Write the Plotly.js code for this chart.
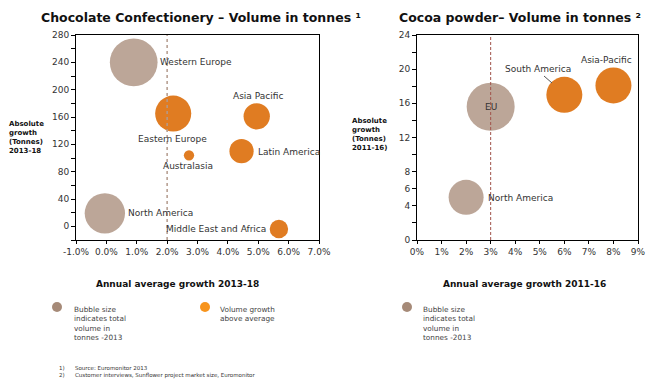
<!DOCTYPE html>
<html>
<head>
<meta charset="utf-8">
<script src="https://cdn.plot.ly/plotly-3.0.1.min.js"></script>
<style>html,body{margin:0;padding:0;background:#fff;}#chart{width:671px;height:383px;}</style>
</head>
<body>
<div id="chart"></div>
<script>
// ---------- Data ----------
const leftRegions = ['Western Europe','Eastern Europe','Asia Pacific','Latin America','Australasia','North America','Middle East and Africa'];
const leftGrowth = [0.9, 2.2, 4.95, 4.45, 2.72, -0.05, 5.68];          // % per year 2013-18
const leftAbsGrowth = [240, 165, 161, 110, 104, 19, -4];               // tonnes
const leftVolume = [2800, 1600, 850, 720, 130, 2000, 420];             // relative total volume 2013
const leftAboveAvg = [false, true, true, true, true, false, true];
const leftAvg = 2;

const rightRegions = ['EU','South America','Asia-Pacific','North America'];
const rightGrowth = [3.0, 6.0, 8.0, 2.0];                               // % per year 2011-16
const rightAbsGrowth = [15.6, 17.0, 18.1, 5.0];                         // tonnes
const rightVolume = [576, 324, 324, 306];                               // relative total volume 2013
const rightAboveAvg = [false, true, true, false];
const rightAvg = 3;

const leftXTicks = [-1,0,1,2,3,4,5,6,7];
const leftXLabels = ['-1.0%','0.0%','1.0%','2.0%','3.0%','4.0%','5.0%','6.0%','7.0%'];
const leftYTicks = [0,40,80,120,160,200,240,280];
const rightXTicks = [0,1,2,3,4,5,6,7,8,9];
const rightXLabels = ['0%','1%','2%','3%','4%','5%','6%','7%','8%','9%'];
const rightYTicks = [0,4,6,8,12,16,20,24];

// ---------- Styling ----------
const W = 671, H = 383;
const BROWN = '#bca698', ORANGE = '#e07c22';
const FONT = 'DejaVu Sans, Verdana, sans-serif';
const px = v => v / W;
const py = v => 1 - v / H;

const colorsFor = flags => flags.map(f => f ? ORANGE : BROWN);

const traces = [
  {
    type: 'scatter', mode: 'markers', xaxis: 'x', yaxis: 'y',
    x: leftGrowth, y: leftAbsGrowth, text: leftRegions,
    marker: {size: leftVolume, sizemode: 'area', sizeref: 2.458, color: colorsFor(leftAboveAvg), opacity: 1, line: {width: 0}},
    hoverinfo: 'text', showlegend: false
  },
  {
    type: 'scatter', mode: 'markers', xaxis: 'x2', yaxis: 'y2',
    x: rightGrowth, y: rightAbsGrowth, text: rightRegions,
    marker: {size: rightVolume, sizemode: 'area', sizeref: 0.5, color: colorsFor(rightAboveAvg), opacity: 1, line: {width: 0}},
    hoverinfo: 'text', showlegend: false
  }
];

const axisCommon = {
  showline: true, linecolor: '#000', linewidth: 1, mirror: true,
  showgrid: false, zeroline: false,
  ticks: 'outside', ticklen: 4, tickcolor: '#000', tickwidth: 1,
  tickfont: {family: FONT, size: 9, color: '#333'}, fixedrange: true
};

const yDom = [py(240), py(35)];

const layout = {
  width: W, height: H,
  margin: {l: 0, r: 0, t: 0, b: 0, pad: 0},
  paper_bgcolor: '#fff', plot_bgcolor: '#fff',
  showlegend: false,
  font: {family: FONT, size: 9, color: '#333'},
  xaxis: Object.assign({}, axisCommon, {
    domain: [px(76), px(319)], range: [-1, 7], anchor: 'y',
    tickmode: 'array', tickvals: leftXTicks, ticktext: leftXLabels, ticklen: 3
  }),
  yaxis: Object.assign({}, axisCommon, {
    domain: yDom, range: [-20, 280], anchor: 'x',
    tickmode: 'array', tickvals: leftYTicks,
    minor: {dtick: 20, tick0: 0, ticks: 'outside', ticklen: 4, tickcolor: '#000', showgrid: false}
  }),
  xaxis2: Object.assign({}, axisCommon, {
    domain: [px(417), px(638)], range: [0, 9], anchor: 'y2',
    tickmode: 'array', tickvals: rightXTicks, ticktext: rightXLabels, ticklen: 3
  }),
  yaxis2: Object.assign({}, axisCommon, {
    domain: yDom, range: [0, 24], anchor: 'x2',
    tickmode: 'array', tickvals: rightYTicks,
    minor: {dtick: 2, tick0: 0, ticks: 'outside', ticklen: 4, tickcolor: '#000', showgrid: false}
  }),
  shapes: [
    {type: 'line', xref: 'x', yref: 'y domain', x0: leftAvg, x1: leftAvg, y0: 0, y1: 1,
     line: {color: '#b39a8c', width: 1.5, dash: 'dot'}, layer: 'above'},
    {type: 'line', xref: 'x2', yref: 'y2 domain', x0: rightAvg, x1: rightAvg, y0: 0, y1: 1,
     line: {color: '#a0524a', width: 1, dash: '3px,2px'}, layer: 'above'},
    // leader line for South America
    {type: 'line', xref: 'paper', yref: 'paper', x0: px(544), y0: py(76), x1: px(552), y1: py(83),
     line: {color: '#555', width: 1}},
    // legend dots
    {type: 'circle', xref: 'paper', yref: 'paper', xsizemode: 'pixel', ysizemode: 'pixel',
     xanchor: px(57), yanchor: py(307), x0: -5, x1: 5, y0: -5, y1: 5,
     fillcolor: '#a68a78', line: {width: 0}},
    {type: 'circle', xref: 'paper', yref: 'paper', xsizemode: 'pixel', ysizemode: 'pixel',
     xanchor: px(205), yanchor: py(307), x0: -5, x1: 5, y0: -5, y1: 5,
     fillcolor: '#f7941d', line: {width: 0}},
    {type: 'circle', xref: 'paper', yref: 'paper', xsizemode: 'pixel', ysizemode: 'pixel',
     xanchor: px(407), yanchor: py(307), x0: -5, x1: 5, y0: -5, y1: 5,
     fillcolor: '#a68a78', line: {width: 0}}
  ],
  annotations: []
};

const A = layout.annotations;
function paperText(text, x, y, opts) {
  A.push(Object.assign({
    xref: 'paper', yref: 'paper', x: px(x), y: py(y), text: text, showarrow: false,
    xanchor: 'left', yanchor: 'middle', align: 'left',
    font: {family: FONT, size: 9, color: '#333'}, borderpad: 0
  }, opts || {}));
}

// Titles
paperText('<b>Chocolate Confectionery – Volume in tonnes ¹</b>', 201, 17,
  {xanchor: 'center', font: {family: FONT, size: 12.5, color: '#111'}});
paperText('<b>Cocoa powder– Volume in tonnes ²</b>', 520, 17,
  {xanchor: 'center', font: {family: FONT, size: 12.5, color: '#111'}});

// Axis titles
paperText('<b>Annual average growth 2013-18</b>', 177, 284,
  {xanchor: 'center', font: {family: FONT, size: 9, color: '#111'}});
paperText('<b>Annual average growth 2011-16</b>', 524, 284,
  {xanchor: 'center', font: {family: FONT, size: 9, color: '#111'}});
paperText('<b>Absolute<br>growth<br>(Tonnes)<br>2013-18</b>', 8, 137,
  {font: {family: FONT, size: 7, color: '#111'}});
paperText('<b>Absolute<br>growth<br>(Tonnes)<br>2011-16)</b>', 351, 134,
  {font: {family: FONT, size: 7, color: '#111'}});

// Legend texts
paperText('Bubble size<br>indicates total<br>volume in<br>tonnes -2013', 73, 323,
  {font: {family: FONT, size: 7.3, color: '#444'}});
paperText('Volume growth<br>above average', 219, 314,
  {font: {family: FONT, size: 7.3, color: '#444'}});
paperText('Bubble size<br>indicates total<br>volume in<br>tonnes -2013', 422, 323,
  {font: {family: FONT, size: 7.3, color: '#444'}});

// Footnotes
paperText('1)', 58, 368, {font: {family: FONT, size: 5.5, color: '#333'}});
paperText('Source: Euromonitor 2013', 74, 368, {font: {family: FONT, size: 5.5, color: '#333'}});
paperText('2)', 58, 375, {font: {family: FONT, size: 5.5, color: '#333'}});
paperText('Customer interviews, Sunflower project market size, Euromonitor', 74, 375, {font: {family: FONT, size: 5.5, color: '#333'}});

// Bubble labels (anchored to each bubble's data point)
const leftLabelPos = [
  {xanchor: 'left', xshift: 25, yshift: 0},
  {xanchor: 'center', xshift: -1, yshift: -25},
  {xanchor: 'center', xshift: 1, yshift: 20},
  {xanchor: 'left', xshift: 15, yshift: -1},
  {xanchor: 'center', xshift: -1, yshift: -11},
  {xanchor: 'left', xshift: 22, yshift: 0},
  {xanchor: 'right', xshift: -12, yshift: 0}
];
leftRegions.forEach((name, i) => {
  A.push(Object.assign({
    xref: 'x', yref: 'y', x: leftGrowth[i], y: leftAbsGrowth[i], text: name,
    showarrow: false, yanchor: 'middle', borderpad: 0,
    font: {family: FONT, size: 9, color: '#333'}
  }, leftLabelPos[i]));
});
const rightLabelPos = [
  {xanchor: 'center', xshift: 0, yshift: 0},
  {xanchor: 'center', xshift: -26, yshift: 26},
  {xanchor: 'center', xshift: -7, yshift: 25},
  {xanchor: 'left', xshift: 21, yshift: -1}
];
rightRegions.forEach((name, i) => {
  A.push(Object.assign({
    xref: 'x2', yref: 'y2', x: rightGrowth[i], y: rightAbsGrowth[i], text: name,
    showarrow: false, yanchor: 'middle', borderpad: 0,
    font: {family: FONT, size: 9, color: '#333'}
  }, rightLabelPos[i]));
});

Plotly.newPlot('chart', traces, layout, {staticPlot: true, displayModeBar: false});
</script>
</body>
</html>
